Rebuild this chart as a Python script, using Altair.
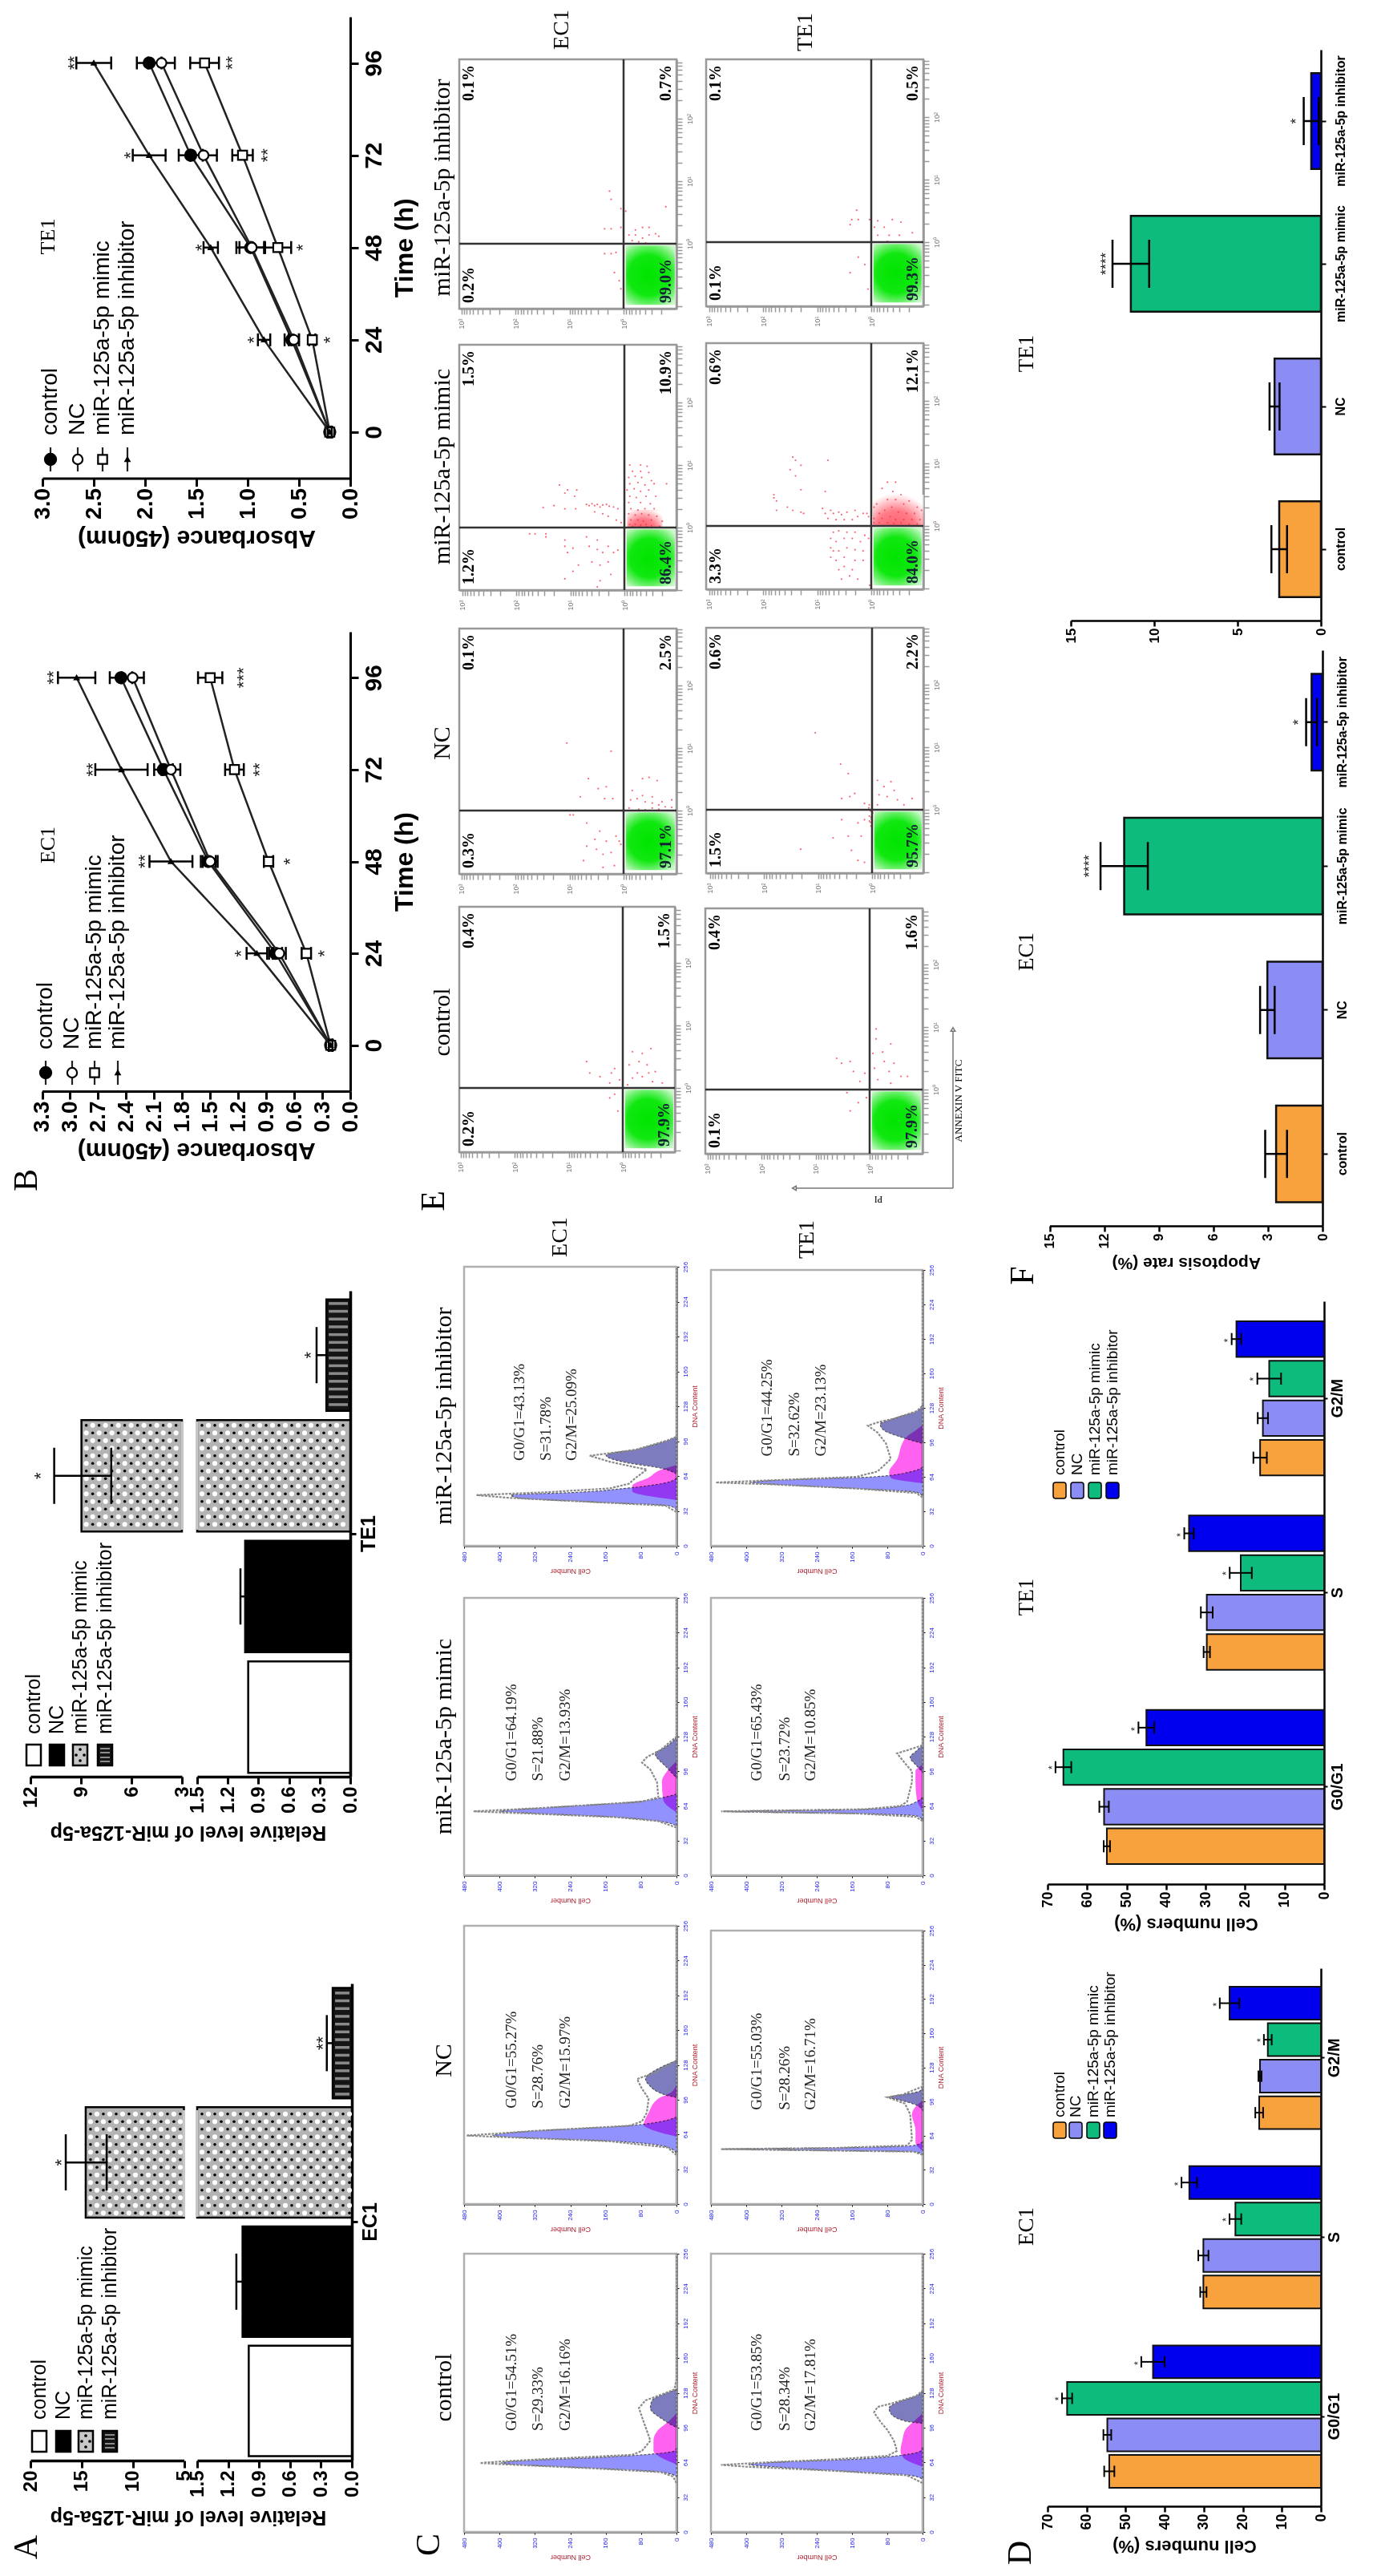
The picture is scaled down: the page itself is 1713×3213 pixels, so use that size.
import altair as alt
import numpy as np
import pandas as pd

W, H = 1697, 3197
SANS, SERIF = "Liberation Sans", "Liberation Serif"
CATS = ["control", "NC", "miR-125a-5p mimic", "miR-125a-5p inhibitor"]
COLORS = ["#F8A23E", "#8C8CF5", "#0DBB7C", "#0000EE"]
GROUPS = ["G0/G1", "S", "G2/M"]
TIME = [0, 24, 48, 72, 96]

# Panel A
A_EC1 = [1.0, 1.06, 14.6, 0.186]
A_EC1_LO = [1.0, 1.06, 12.55, 0.186]
A_EC1_HI = [1.0, 1.12, 16.55, 0.243]
A_TE1 = [1.0, 1.03, 8.97, 0.234]
A_TE1_LO = [1.0, 1.03, 7.2, 0.234]
A_TE1_HI = [1.0, 1.076, 10.59, 0.33]

# Panel B: value, error
B_EC1 = {
    "control": ([0.21, 0.80, 1.52, 2.00, 2.455], [0.02, 0.07, 0.08, 0.10, 0.12]),
    "NC": ([0.21, 0.76, 1.50, 1.92, 2.33], [0.02, 0.07, 0.08, 0.10, 0.12]),
    "mimic": ([0.21, 0.47, 0.875, 1.24, 1.50], [0.02, 0.05, 0.05, 0.10, 0.13]),
    "inhibitor": ([0.21, 1.00, 1.92, 2.45, 2.93], [0.02, 0.11, 0.23, 0.28, 0.20]),
}
B_EC1_STARS = [(24, 1.22, "*"), (24, 0.33, "*"), (48, 2.25, "**"), (48, 0.70, "*"),
               (72, 2.81, "**"), (72, 1.03, "**"), (96, 3.23, "**"), (96, 1.20, "***")]
B_TE1 = {
    "control": ([0.20, 0.57, 0.97, 1.555, 1.96], [0.02, 0.07, 0.14, 0.117, 0.12]),
    "NC": ([0.20, 0.55, 0.96, 1.43, 1.84], [0.02, 0.05, 0.12, 0.13, 0.13]),
    "mimic": ([0.20, 0.37, 0.706, 1.05, 1.42], [0.02, 0.03, 0.13, 0.10, 0.14]),
    "inhibitor": ([0.20, 0.84, 1.36, 1.96, 2.50], [0.02, 0.06, 0.07, 0.16, 0.17]),
}
B_TE1_STARS = [(24, 0.99, "*"), (24, 0.245, "*"), (48, 1.50, "*"), (48, 0.51, "*"),
               (72, 2.19, "*"), (72, 0.86, "**"), (96, 2.74, "**"), (96, 1.20, "**")]

# Panel D
D_EC1 = [[54.2, 54.7, 65.0, 43.0], [30.1, 30.1, 21.9, 33.7], [15.8, 15.6, 13.6, 23.4]]
D_EC1_E = [[1.3, 1.0, 1.3, 3.0], [0.8, 1.3, 1.5, 2.0], [1.0, 0.4, 1.0, 2.5]]
D_TE1 = [[55.0, 55.7, 66.0, 45.0], [29.7, 29.7, 21.1, 34.2], [16.2, 15.5, 13.9, 22.2]]
D_TE1_E = [[0.8, 1.2, 2.0, 2.0], [0.8, 1.5, 2.8, 1.2], [1.7, 1.3, 3.0, 1.2]]

# Panel F
F_EC1 = [2.55, 3.03, 10.9, 0.6]
F_EC1_E = [0.6, 0.4, 1.3, 0.3]
F_TE1 = [2.5, 2.78, 11.4, 0.58]
F_TE1_E = [0.47, 0.3, 1.1, 0.45]

# Panel C: (dna, count) pairs, percentages
C_PANELS = {
    ("control", "EC1"): dict(
        g1=[(51, 0), (55, 33), (58.5, 181), (62, 359), (63.4, 396), (64.7, 374), (68.4, 181), (71.6, 55), (74.5, 4), (77, 0)],
        s=[(62, 0), (68, 33), (74.5, 52), (84, 52), (94, 41), (101.6, 18), (109, 0)],
        g2=[(96, 0), (104, 33), (114, 59), (121, 55), (127, 26), (131, 0)],
        o=[(45, 0), (51, 8), (55, 35), (58.5, 190), (62, 380), (63.4, 444), (65, 390), (67, 300), (71, 100), (74.5, 78), (84, 59), (96.6, 70), (114, 85), (121, 70), (127, 30), (131, 5), (140, 0), (256, 0)],
        pct=["G0/G1=54.51%", "S=29.33%", "G2/M=16.16%"], tv=[373, 313, 252], td=93),
    ("control", "TE1"): dict(
        g1=[(48.7, 0), (52.4, 35), (56, 185), (59.8, 334), (62, 394), (63.5, 356), (67, 147), (70.8, 43), (74.5, 4), (78, 0)],
        s=[(60, 0), (68, 43), (74.5, 50), (84, 46), (94, 39), (101.6, 20), (109, 0)],
        g2=[(100, 0), (101.6, 35), (109, 72), (114, 76), (119, 58), (125, 13), (130, 0)],
        o=[(45, 0), (50, 25), (52, 35), (56, 190), (60, 400), (61.7, 457), (64, 355), (67, 190), (70, 80), (74.5, 58), (84, 65), (94, 80), (101, 95), (110, 110), (115, 102), (118, 72), (125, 15), (130, 0), (256, 0)],
        pct=["G0/G1=53.85%", "S=28.34%", "G2/M=17.81%"], tv=[376, 312, 254], td=93),
    ("NC", "EC1"): dict(
        g1=[(46.6, 0), (52, 18), (57.7, 137), (62, 390), (63, 415), (67, 330), (72, 107), (76, 33), (80, 0)],
        s=[(62, 0), (69, 60), (72.6, 74), (84, 63), (97, 41), (102, 15), (110, 0)],
        g2=[(98, 0), (100.6, 26), (110, 63), (115, 70), (123, 48), (132, 0)],
        o=[(45, 0), (52, 20), (57.7, 150), (62, 420), (63, 474), (65, 400), (67, 330), (72, 107), (76, 78), (84, 67), (97, 63), (106, 78), (115, 89), (121, 48), (132, 0), (256, 0)],
        pct=["G0/G1=55.27%", "S=28.76%", "G2/M=15.97%"], tv=[373, 313, 252], td=88),
    ("NC", "TE1"): dict(
        g1=[(46.6, 0), (49, 20), (50, 200), (51.4, 450), (52.5, 200), (54.8, 20), (58, 0)],
        s=[(50, 0), (57.7, 16), (69, 16), (84, 24), (91, 16), (97, 0)],
        g2=[(88, 0), (93, 16), (98, 58), (100, 76), (102.5, 43), (106, 5), (110, 0)],
        o=[(46, 0), (49, 20), (50, 200), (51.4, 457), (52.5, 200), (54.8, 35), (60, 24), (84, 28), (94, 40), (100, 80), (102.5, 45), (110, 0), (256, 0)],
        pct=["G0/G1=55.03%", "S=28.26%", "G2/M=16.71%"], tv=[376, 312, 254], td=88),
    ("mimic", "EC1"): dict(
        g1=[(45.5, 0), (50, 41), (53.7, 137), (57.4, 330), (59, 400), (62, 307), (67.8, 93), (71.5, 33), (75, 0)],
        s=[(58, 0), (69.7, 30), (86, 33), (97.6, 18), (105, 0)],
        g2=[(90, 0), (99.5, 22), (112.5, 48), (116, 33), (125, 5), (128, 0)],
        o=[(44, 0), (50, 41), (53.7, 140), (57.4, 360), (59, 459), (62, 310), (67.8, 78), (72, 41), (86, 44), (97.6, 59), (104, 78), (109, 67), (116, 35), (128, 0), (256, 0)],
        pct=["G0/G1=64.19%", "S=21.88%", "G2/M=13.93%"], tv=[373, 313, 252], td=87),
    ("mimic", "TE1"): dict(
        g1=[(51, 0), (54.8, 13), (57, 150), (59, 450), (60.5, 150), (64, 43), (68, 13), (72, 0)],
        s=[(60, 0), (70, 13), (86, 16), (96, 16), (102, 0)],
        g2=[(95, 0), (101, 13), (109, 28), (114, 16), (120, 0)],
        o=[(50, 0), (54, 15), (57, 150), (59, 457), (61, 130), (64, 50), (68, 35), (86, 24), (96, 24), (103, 39), (112.5, 58), (116, 30), (120, 0), (256, 0)],
        pct=["G0/G1=65.43%", "S=23.72%", "G2/M=10.85%"], tv=[376, 312, 254], td=87),
    ("inhibitor", "EC1"): dict(
        g1=[(33, 0), (36.8, 18), (40, 181), (44, 359), (46.5, 374), (49, 226), (52.7, 115), (57.6, 26), (62, 0)],
        s=[(42, 0), (50, 100), (55, 100), (62.5, 63), (70, 33), (74, 0)],
        g2=[(66, 0), (71, 33), (77, 122), (83, 159), (89, 85), (97, 18), (100, 0)],
        o=[(31, 0), (36.8, 25), (40, 181), (44, 380), (46.5, 452), (49, 300), (52.7, 150), (57, 107), (62, 93), (70, 67), (72, 93), (77, 150), (82.6, 196), (88, 93), (97, 18), (100, 0), (256, 0)],
        pct=["G0/G1=43.13%", "S=31.78%", "G2/M=25.09%"], tv=[355, 295, 237], td=78),
    ("inhibitor", "TE1"): dict(
        g1=[(46, 0), (49.6, 13), (53, 146), (57, 332), (58.7, 391), (60.7, 332), (64, 109), (69.4, 20), (73, 0)],
        s=[(58, 0), (63, 72), (68, 76), (80.5, 57), (95, 46), (100, 39), (108, 13), (112, 0)],
        g2=[(95, 0), (100, 42), (108, 90), (113, 96), (118, 65), (125, 13), (130, 0)],
        o=[(45, 0), (49, 15), (53, 146), (57, 340), (58.7, 469), (61, 330), (64, 150), (69, 102), (80.5, 72), (95, 83), (105, 102), (111.5, 124), (115, 98), (118, 65), (125, 13), (130, 0), (256, 0)],
        pct=["G0/G1=44.25%", "S=32.62%", "G2/M=23.13%"], tv=[352, 291, 231], td=83),
}

# Panel E: red events as (PI decade, Annexin decade), quadrant percentages UL, UR, LL, LR
E_PANELS = {
    ("control", "EC1"): dict(
        r=[(-.18,.58),(-.36,.55),(-.52,.63),(-.12,.37),(-.3,.42),(-.45,.37),(-.6,.26),(-.18,.16),(-.36,.18),(-.55,.1),(-.73,.08),(-.09,.05),(.67,.42),(.61,.24),(.42,.18),(.21,.24),(.15,.31),(.06,.13),(.24,.08),(.15,-.1),(.24,-.16),(.09,-.37),(-.27,.24),(-.48,.24)],
        pct=["0.4%", "1.5%", "0.2%", "97.9%"]),
    ("control", "TE1"): dict(
        r=[(-.12,.97),(-.12,.81),(-.39,.73),(-.06,.58),(-.24,.6),(-.27,.45),(-.45,.42),(-.09,.34),(-.36,.29),(-.58,.21),(-.7,.21),(-.15,.16),(-.39,.1),(.61,.5),(.52,.42),(.36,.45),(.3,.29),(.18,.13),(.09,.26),(.21,-.21),(.36,-.34),(.42,-.05),(.06,-.13)],
        pct=["0.4%", "1.6%", "0.1%", "97.9%"]),
    ("NC", "EC1"): dict(
        r=[(-.35,.51),(-.47,.53),(-.62,.48),(-.16,.32),(-.35,.24),(-.53,.22),(-.71,.14),(-.89,.17),(-.13,.17),(-.25,.19),(-.4,.14),(-.53,.12),(-.65,.09),(-.77,.06),(-.89,.05),(-.1,.04),(-.28,.02),(-.4,.01),(-.53,.04),(-.65,.02),(1.05,1.08),(.23,.95),(.65,.51),(.47,.35),(.32,.38),(.8,.22),(.35,.19),(.2,.19),(.99,-.07),(.93,-.07),(.68,-.2),(.44,-.33),(.14,-.41),(.08,-.49),(.05,-.54),(.53,-.46),(.32,-.49),(.68,-.57),(.5,-.62),(.38,-.7),(.74,-.8),(.38,-.91),(.17,-.88),(.23,-.67)],
        pct=["0.1%", "2.5%", "0.3%", "97.1%"]),
    ("NC", "TE1"): dict(
        r=[(1.05,1.23),(.58,.73),(.44,.58),(.32,.26),(.56,.18),(.41,.21),(.14,.1),(.05,.08),(-.1,.47),(-.35,.45),(-.22,.37),(-.41,.31),(-.13,.24),(-.28,.21),(-.47,.16),(-.59,.08),(-.74,.18),(-.1,.08),(-.01,-.05),(.05,-.1),(.05,-.18),(.02,-.26),(.14,-.16),(.26,-.21),(.44,-.42),(.72,-.45),(.56,-.16),(.2,-.42),(.38,-.65),(.26,-.81),(.14,-.84),(1.32,-.63),(.03,-.02),(.02,-.12),(.03,-.2),(.06,.03),(.01,-.15)],
        pct=["0.6%", "2.2%", "1.5%", "95.7%"]),
    ("mimic", "EC1"): dict(
        r=[(-.1,1.0),(-.3,1.0),(-.42,.98),(-.15,.9),(-.3,.9),(-.45,.88),(-.08,.8),(-.2,.82),(-.32,.8),(-.5,.75),(-.1,.7),(-.25,.72),(-.38,.68),(-.55,.7),(-.05,.6),(-.18,.62),(-.3,.58),(-.45,.6),(-.1,.5),(-.22,.48),(-.4,.5),(-.58,.5),(-.08,.4),(-.3,.4),(-.48,.38),(-.12,.3),(-.25,.28),(-.38,.3),(-.55,.3),(-.08,.22),(-.2,.2),(-.32,.22),(-.45,.2),(-.6,.18),(-.12,.12),(-.25,.12),(-.35,.1),(-.5,.12),(-.7,.1),(-.1,.05),(-.2,.05),(-.3,.04),(-.4,.05),(-.5,.03),(-.65,.02),(-.15,.02),(-.28,.01),(-.42,.01),(-.78,.7),(.7,.37),(.65,.35),(.6,.38),(.55,.35),(.5,.37),(.45,.33),(.4,.36),(.33,.37),(.28,.34),(.2,.33),(.12,.3),(.55,.25),(.4,.22),(.3,.18),(.15,.12),(.06,.08),(1.2,.68),(1.1,.55),(1.05,.6),(.88,.6),(.92,.5),(1.3,.35),(1.5,.32),(1.1,.3),(.9,.3),(1.75,-.1),(1.65,-.1),(1.45,-.1),(1.45,-.15),(1.1,-.2),(1.1,-.3),(1.05,-.4),(.95,-.33),(.7,-.15),(.65,-.3),(.5,-.2),(.5,-.35),(.4,-.4),(.3,-.3),(.2,-.4),(.12,-.36),(.85,-.6),(.95,-.7),(1.1,-.82),(.6,-.55),(.45,-.6),(.3,-.55),(.25,-.75),(.45,-.85),(.5,-.95)],
        pct=["1.5%", "10.9%", "1.2%", "86.4%"], blob=(-.05, -.7, 0, .28)),
    ("mimic", "TE1"): dict(
        r=[(-.3,.7),(-.45,.7),(-.2,.6),(-.4,.55),(-.55,.5),(-.7,.4),(-.85,.3),(-.05,.3),(-.1,.35),(-.3,.42),(-.45,.42),(-.6,.35),(-.8,.2),(-.93,.25),(-.05,.12),(-.15,.2),(-.25,.25),(-.38,.3),(-.5,.22),(-.65,.2),(-.75,.1),(-.9,.1),(-.2,.12),(-.35,.15),(-.45,.1),(-.6,.1),(-.05,.05),(-.15,.05),(-.3,.05),(-.42,.04),(-.55,.05),(-.7,.03),(-.85,.03),(1.45,1.1),(1.4,1.05),(.8,1.05),(1.5,.9),(1.3,.97),(1.4,.8),(1.3,.58),(.85,.55),(1.8,.5),(1.8,.45),(1.75,.4),(1.75,.25),(1.55,.3),(1.45,.25),(1.3,.22),(1.25,.2),(.9,.28),(.85,.2),(.75,.25),(.7,.2),(.6,.22),(.55,.18),(.45,.22),(.3,.25),(.25,.15),(.15,.2),(.08,.2),(.05,.15),(.8,.12),(.65,.1),(.5,.1),(.35,.1),(.7,-.1),(.6,-.08),(.45,-.1),(.3,-.1),(.12,-.15),(.75,-.2),(.65,-.25),(.5,-.2),(.35,-.2),(.2,-.25),(.05,-.2),(.75,-.35),(.7,-.4),(.6,-.4),(.45,-.35),(.3,-.38),(.15,-.4),(.75,-.5),(.65,-.55),(.5,-.5),(.3,-.55),(.15,-.55),(.6,-.7),(.5,-.65),(.35,-.7),(.55,-.85),(.4,-.8),(.25,-.85),(.03,-.95)],
        pct=["0.6%", "12.1%", "3.3%", "84.0%"], blob=(-.03, -.97, 0, .5)),
    ("inhibitor", "EC1"): dict(
        r=[(.26,.84),(.23,.71),(.05,.56),(-.04,.52),(-.78,.59),(.35,.24),(.23,.24),(.05,.26),(-.22,.22),(-.35,.26),(-.47,.26),(-.59,.16),(-.1,.14),(-.22,.14),(-.35,.09),(-.47,.14),(-.65,.12),(-.16,.05),(-.28,.03),(-.41,.01),(-.59,0),(-.71,0),(.35,-.16),(.23,-.16),(.14,-.14),(.17,-.46),(.08,-.59),(.05,-.72)],
        pct=["0.1%", "0.7%", "0.2%", "99.0%"]),
    ("inhibitor", "TE1"): dict(
        r=[(.27,.51),(.36,.36),(.24,.36),(.39,.28),(.03,.36),(-.12,.34),(-.39,.36),(-.06,.24),(-.24,.24),(-.55,.32),(-.12,.11),(-.33,.11),(-.52,.11),(-.76,.15),(-.3,.01),(-.42,0),(-.55,0),(-.67,0),(.24,-.24),(.12,-.36),(.39,-.49),(.06,-.75)],
        pct=["0.1%", "0.5%", "0.1%", "99.3%"]),
}

layers = []
ONE = alt.Data(values=[{"a": 1}])


def ax(orient, pos, **kw):
    base = dict(grid=False, labelOverlap=False, labelFlush=False, labelBound=False, labelAngle=270,
                labelFont=SANS, labelFontWeight="bold", labelColor="black", tickColor="black",
                domainColor="black", titleFont=SANS, titleFontWeight="bold", titleColor="black", title=None)
    if orient == "bottom":
        base.update(orient="bottom", offset=pos - 8 - H, labelAlign="right", labelBaseline="middle",
                    titleAngle=180, titleBaseline="bottom")
    else:
        base.update(orient="right", offset=pos - 8 - W, labelAlign="center", labelBaseline="top",
                    titleAngle=270, titleBaseline="top")
    base.update(kw)
    return alt.Axis(**base)


def lin(a, b, r0, r1):
    return alt.Scale(domain=[a, b], range=[r0, r1], nice=False, zero=False)


def pxs(a, b, r0, r1):
    """linear scale with the range given in page pixels"""
    return lin(a, b, r0 - 8, r1 - 8)


def band(domain, r0, r1, pi=0.1, po=0.0):
    return alt.Scale(domain=list(domain), range=[r0 - 8, r1 - 8], paddingInner=pi, paddingOuter=po)


def txt(s, x, y, size, font=SANS, bold=False, angle=270, align="center", baseline="middle", color="black"):
    layers.append(alt.Chart(ONE).mark_text(font=font, fontSize=size, fontWeight="bold" if bold else "normal",
                                           angle=angle, align=align, baseline=baseline, color=color)
                  .encode(x=alt.value(x - 8), y=alt.value(y - 8), text=alt.value(s)))


def vrule(x, y0, y1, color="black", w=2):
    layers.append(alt.Chart(ONE).mark_rule(color=color, strokeWidth=w)
                  .encode(x=alt.value(x - 8), y=alt.value(y0 - 8), y2=alt.value(y1 - 8)))


def hrule(y, x0, x1, color="black", w=2):
    layers.append(alt.Chart(ONE).mark_rule(color=color, strokeWidth=w)
                  .encode(y=alt.value(y - 8), x=alt.value(x0 - 8), x2=alt.value(x1 - 8)))


def rect(x0, x1, y0, y1, fill, stroke="black", w=2):
    layers.append(alt.Chart(ONE).mark_rect(fill=fill, stroke=stroke, strokeWidth=w)
                  .encode(x=alt.value(x0 - 8), x2=alt.value(x1 - 8), y=alt.value(y0 - 8), y2=alt.value(y1 - 8)))


def pt(x, y, shape, size, fill, stroke="black", w=2):
    layers.append(alt.Chart(ONE).mark_point(shape=shape, size=size, fill=fill, stroke=stroke, strokeWidth=w, opacity=1, filled=False)
                  .encode(x=alt.value(x - 8), y=alt.value(y - 8)))


def errbars(df, lo, hi, sx, y_enc_field, sy, cap, w=2.5, lowcap=True):
    d = df
    X = lambda f: alt.X(f"{f}:Q", scale=sx, axis=None)
    Y = alt.Y(y_enc_field, scale=sy, axis=None, sort=None)
    layers.append(alt.Chart(d).mark_rule(color="black", strokeWidth=w).encode(x=X(lo), x2=alt.X2(f"{hi}:Q"), y=Y))
    layers.append(alt.Chart(d).mark_tick(orient="vertical", size=cap, thickness=w, color="black", opacity=1).encode(x=X(hi), y=Y))
    if lowcap:
        layers.append(alt.Chart(d).mark_tick(orient="vertical", size=cap, thickness=w, color="black", opacity=1).encode(x=X(lo), y=Y))


def stars(rows, sx, sy, field_y="y", size=22):
    df = pd.DataFrame(rows, columns=["y", "x", "s"])
    layers.append(alt.Chart(df).mark_text(font=SANS, fontSize=size, angle=270, align="center", baseline="middle",
                                          dy=0.3 * size, color="#222")
                  .encode(x=alt.X("x:Q", scale=sx, axis=None), y=alt.Y(f"{field_y}", scale=sy, axis=None, sort=None), text="s:N"))


# ---------------- Panel A ----------------
def lattice(x0, x1, y0, y1):
    sx, sy = pxs(0, 1, x0, x1), pxs(0, 1, y0, y1)
    nx, ny = (x1 - x0) / 16, (y1 - y0) / 9.5
    blk, wht = [], []
    for j in range(int(ny) + 1):
        for i in range(int(nx) + 1):
            fx = (i + 0.5 * (j % 2) + 0.25) / nx
            fxw = (i + 0.5 * ((j + 1) % 2) + 0.25) / nx
            fy = (j + 0.5) / ny
            if fx < 1 and fy < 1:
                blk.append({"x": fx, "y": fy})
            if fxw < 1 and fy < 1:
                wht.append({"x": fxw, "y": fy})
    for pts, c, s in ((wht, "white", 38), (blk, "black", 13)):
        layers.append(alt.Chart(pd.DataFrame(pts)).mark_circle(color=c, size=s, opacity=1)
                      .encode(x=alt.X("x:Q", scale=sx, axis=None), y=alt.Y("y:Q", scale=sy, axis=None)))


def stripes(x0, x1, y0, y1):
    sy = pxs(0, 1, y0, y1)
    vals = np.arange(0.5, (y1 - y0) / 9.7) / ((y1 - y0) / 9.7)
    layers.append(alt.Chart(pd.DataFrame({"y": vals})).mark_rule(color="#8a8a8a", strokeWidth=3.5)
                  .encode(y=alt.Y("y:Q", scale=sy, axis=None), x=alt.value(x0 - 8), x2=alt.value(x1 - 8)))


AFILL = alt.Scale(domain=CATS, range=["white", "black", "#b4b4b4", "#151515"])


def panel_a(vals, lo, hi, base, ux0, ux1, udom, utick, yr, axr, mid_name, mimic_y, inh_y, title_y, legx, legy, txt_y, mim_star, inh_star, inh_stars, legh):
    sl = pxs(0, 1.5, base, 246)
    su = pxs(udom[0], udom[1], ux0, ux1)
    sy = band(CATS, yr[0], yr[1], 0.075, 0.0375)
    low = pd.DataFrame({"c": CATS, "v": [min(v, 1.5) for v in vals]})
    axl = ax("bottom", axr[0], values=[0, .3, .6, .9, 1.2, 1.5], format=".1f", labelFontSize=24, domainWidth=3.5, tickWidth=3, tickSize=9, labelPadding=3)
    layers.append(alt.Chart(low).mark_bar(stroke="black", strokeWidth=2.5).encode(
        x=alt.X("v:Q", scale=sl, axis=axl, stack=None), y=alt.Y("c:N", scale=sy, axis=None, sort=None),
        fill=alt.Fill("c:N", scale=AFILL, legend=None)))
    up = pd.DataFrame({"c": [CATS[2]], "v": [vals[2]], "b": [udom[0]]})
    axu = ax("bottom", axr[0], values=utick, format="d", labelFontSize=24, domainWidth=3.5, tickWidth=3, tickSize=9, labelPadding=3)
    layers.append(alt.Chart(up).mark_bar(stroke="black", strokeWidth=2.5, fill="#b4b4b4").encode(
        x=alt.X("v:Q", scale=su, axis=axu, stack=None), x2=alt.X2("b:Q"), y=alt.Y("c:N", scale=sy, axis=None, sort=None)))
    # textures
    ux_end = ux0 + (vals[2] - udom[0]) / (udom[1] - udom[0]) * (ux1 - ux0)
    lattice(248, base - 2, mimic_y[0] + 2, mimic_y[1] - 2)
    lattice(ux_end + 2, ux0 - 1, mimic_y[0] + 2, mimic_y[1] - 2)
    # the broken ends of the bar carry no border
    vrule(246, mimic_y[0] + 2, mimic_y[1] - 2, "#c8c8c8", 3)
    vrule(ux0, mimic_y[0] + 2, mimic_y[1] - 2, "#c8c8c8", 3)
    inh_x = base + (0 - vals[3]) / 1.5 * (base - 246)
    stripes(inh_x + 3, base - 3, inh_y[0], inh_y[1])
    # errors
    nc = pd.DataFrame({"c": [CATS[1]], "lo": [lo[1]], "hi": [hi[1]]})
    errbars(nc, "lo", "hi", sl, "c:N", sy, 70, lowcap=False)
    inh = pd.DataFrame({"c": [CATS[3]], "lo": [lo[3]], "hi": [hi[3]]})
    errbars(inh, "lo", "hi", sl, "c:N", sy, 70, lowcap=False)
    mm = pd.DataFrame({"c": [CATS[2]], "lo": [lo[2]], "hi": [hi[2]]})
    errbars(mm, "lo", "hi", su, "c:N", sy, 70)
    stars([(CATS[2], mim_star, "*")], su, sy, "y:N")
    stars([(CATS[3], inh_star, inh_stars)], sl, sy, "y:N")
    # category axis
    axg = ax("right", base, values=[mid_name], labelFontSize=25, domainWidth=3.5, tickWidth=3, tickSize=7, labelPadding=3)
    layers.append(alt.Chart(pd.DataFrame({"g": [mid_name]})).mark_tick(opacity=0).encode(
        y=alt.Y("g:N", scale=band([mid_name], axr[0], axr[1], 0, 0), axis=axg)))
    # axis title
    txt("Relative level of miR-125a-5p", 235, title_y, 25, bold=True, angle=180)
    # legend
    fills = ["white", "black", "#c8c8c8", "#151515"]
    for i, c in enumerate(CATS):
        rect(legx[i] - 9, legx[i] + 9, legy - legh, legy + legh, fills[i], w=2.5)
        txt(c, legx[i], txt_y, 25, align="left")
    pt(legx[2], legy - 7, "circle", 14, "black", w=0)
    pt(legx[2], legy + 7, "circle", 14, "black", w=0)
    pt(legx[2] - 5, legy, "circle", 14, "black", w=0)
    pt(legx[2] + 5, legy, "circle", 14, "black", w=0)
    for dy in (-8, -3, 3, 8):
        hrule(legy + dy, legx[3] - 6, legx[3] + 6, "#8a8a8a", 2)


panel_a(A_EC1, A_EC1_LO, A_EC1_HI, 439, 229.5, 38, (5, 20), [5, 10, 15, 20], (3069, 2474), (3069, 2474), "EC1",
        (2630, 2767), (2481, 2618), 3140, [49, 79, 107, 137], 3045, 3018, 17.5, 0.33, "**", 13)
panel_a(A_TE1, A_TE1_LO, A_TE1_HI, 437, 227, 38, (3, 12), [3, 6, 9, 12], (2217, 1615), (2216, 1610), "TE1",
        (1771, 1910), (1621, 1760), 2286, [42, 71, 100, 131], 2189, 2163, 11.7, 0.44, "*", 13)
txt("A", 33, 3177, 42, SERIF)
txt("B", 33, 1472, 42, SERIF)
txt("C", 535, 3174, 42, SERIF)
txt("D", 1273, 3184, 42, SERIF)
txt("E", 541, 1498, 42, SERIF)
txt("F", 1276, 1591, 42, SERIF)


# ---------------- Panel B ----------------
def panel_b(data, star_rows, x3, vmax, y_rng, ticks, name, name_y, legx, leg_y, text_y, tk_fmt=".1f"):
    sx = pxs(0, vmax, 437, x3)
    sy = pxs(-12, 108, y_rng[0], y_rng[1])
    axx = ax("bottom", y_rng[0], values=ticks, format=tk_fmt, labelFontSize=28, domainWidth=3, tickWidth=3, tickSize=10,
             labelPadding=2, title="Absorbance (450nm)", titleFontSize=30, titlePadding=8)
    axy = ax("right", 437, values=TIME, format="d", labelFontSize=30, domainWidth=3, tickWidth=3, tickSize=10,
             labelPadding=4, title="Time (h)", titleFontSize=32, titlePadding=8)
    marks = {"control": ("circle", 200, "black"), "NC": ("circle", 150, "white"),
             "mimic": ("square", 130, "white"), "inhibitor": ("triangle-up", 25, "black")}
    first = True
    for k, (vals, errs) in data.items():
        df = pd.DataFrame({"t": TIME, "v": vals, "lo": np.array(vals) - np.array(errs), "hi": np.array(vals) + np.array(errs)})
        layers.append(alt.Chart(df).mark_line(color="#222", strokeWidth=2.5).encode(
            x=alt.X("v:Q", scale=sx, axis=axx if first else None),
            y=alt.Y("t:Q", scale=sy, axis=axy if first else None), order="t:Q"))
        first = False
        errbars(df, "lo", "hi", sx, "t:Q", sy, 16)
        shp, sz, fl = marks[k]
        layers.append(alt.Chart(df).mark_point(shape=shp, size=sz, fill=fl, stroke="black", strokeWidth=2.2, opacity=1, filled=False).encode(
            x=alt.X("v:Q", scale=sx, axis=None), y=alt.Y("t:Q", scale=sy, axis=None)))
    stars(star_rows, sx, sy, "y:Q")
    txt(name, 60, name_y, 26, SERIF)
    labs = ["control", "NC", "miR-125a-5p mimic", "miR-125a-5p inhibitor"]
    for i, (k, m) in enumerate(marks.items()):
        vrule(legx[i], leg_y - 15, leg_y + 15, "#222", 2.2)
        pt(legx[i], leg_y, m[0], m[1], m[2], w=2.2)
        txt(labs[i], legx[i], text_y, 28, align="left")


panel_b(B_EC1, B_EC1_STARS, 52.5, 3.3, (1361, 788), [round(.3 * i, 1) for i in range(12)], "EC1", 1054, [57, 90, 118, 147], 1338, 1309)
panel_b(B_TE1, B_TE1_STARS, 53, 3.0, (596.5, 21), [round(.5 * i, 1) for i in range(7)], "TE1", 295, [63, 97, 128, 159], 573, 543)


# ---------------- Panel C ----------------
CX = {"EC1": (579, 844), "TE1": (887, 1151)}
CY = {"control": {"EC1": (3158, 2811), "TE1": (3158, 2811)}, "NC": {"EC1": (2749, 2402), "TE1": (2749, 2408)},
      "mimic": {"EC1": (2339, 1993), "TE1": (2339, 1993)}, "inhibitor": {"EC1": (1928, 1580), "TE1": (1928, 1584)}}

for (col, row), p in C_PANELS.items():
    x0, x1 = CX[row]
    yb, yt = CY[col][row]
    sx, sy = pxs(0, 480, x1, x0), pxs(0, 256, yb, yt)
    tokw = dict(labelFont=SANS, labelFontWeight="normal", labelColor="#2222ee", labelFontSize=8, titleFont=SANS,
                titleFontWeight="normal", titleColor="#b02030", titleFontSize=9, tickSize=3, tickWidth=1, domainColor="#444", domainWidth=2.5)
    axx = ax("bottom", yb, values=[0, 80, 160, 240, 320, 400, 480], format="d", labelPadding=4, title="Cell Number", titlePadding=6, **tokw)
    axy = ax("right", x1, values=[0, 32, 64, 96, 128, 160, 192, 224, 256], format="d", labelPadding=4, title="DNA Content", titlePadding=3, **tokw)
    box = pd.DataFrame({"a": [0], "b": [480], "c": [0], "d": [256]})
    layers.append(alt.Chart(box).mark_rect(fill="white", stroke="#b0b0b0", strokeWidth=2.5).encode(
        x=alt.X("a:Q", scale=sx, axis=axx), x2=alt.X2("b:Q"), y=alt.Y("c:Q", scale=sy, axis=axy), y2=alt.Y2("d:Q")))
    for key, fill, st, blend in (("g1", "#9292FF", "#555", None), ("g2", "#7C7CBE", "#555", None), ("s", "#FF62F0", None, "multiply")):
        d = pd.DataFrame(p[key], columns=["d", "v"])
        kw = dict(orient="horizontal", fill=fill, interpolate="monotone")
        if st:
            kw.update(stroke=st, strokeWidth=1.2, strokeDash=[3, 2])
        if blend:
            kw.update(blend=blend)
        layers.append(alt.Chart(d).mark_area(**kw).encode(
            x=alt.X("v:Q", scale=sx, axis=None, stack=None), y=alt.Y("d:Q", scale=sy, axis=None)))
    d = pd.DataFrame(p["o"], columns=["d", "v"])
    layers.append(alt.Chart(d).mark_line(orient="horizontal", color="#8a8a8a", strokeWidth=2.2, strokeDash=[3, 1.5]).encode(
        x=alt.X("v:Q", scale=sx, axis=None), y=alt.Y("d:Q", scale=sy, axis=None), order="d:Q"))
    d = pd.DataFrame({"t": p["pct"], "v": p["tv"], "d": [p["td"]] * 3})
    layers.append(alt.Chart(d).mark_text(font=SERIF, fontSize=19, angle=270, align="left", baseline="middle", color="#222").encode(
        x=alt.X("v:Q", scale=sx, axis=None), y=alt.Y("d:Q", scale=sy, axis=None), text="t:N"))

for s, y, x in (("control", 2978, 554), ("NC", 2570, 554), ("miR-125a-5p mimic", 2166, 554), ("miR-125a-5p inhibitor", 1766, 554)):
    txt(s, x, y, 30, SERIF)
txt("EC1", 699, 1543, 28, SERIF)
txt("TE1", 1007, 1546, 28, SERIF)

# ---------------- Panel E ----------------
EBOX = {
    ("inhibitor", "EC1"): (573, 844, 74, 385, 778, 304), ("inhibitor", "TE1"): (881, 1152, 74, 382, 1087, 302),
    ("mimic", "EC1"): (573, 844, 430, 736, 779, 658), ("mimic", "TE1"): (881, 1152, 428, 735, 1087, 656),
    ("NC", "EC1"): (573, 844, 784, 1090, 778, 1011), ("NC", "TE1"): (881, 1152, 783, 1089, 1088, 1010),
    ("control", "EC1"): (573, 842, 1131, 1437, 777, 1357), ("control", "TE1"): (880, 1151, 1133, 1439, 1085, 1359),
}
DX, DY = 67.5, 78.0
MINOR = [round(d + np.log10(k), 3) for d in (-1, 0, 1, 2, 3) for k in range(1, 10) if d + np.log10(k) < 3.2]
GREEN = dict(gradient="radial", x1=.47, y1=.5, r1=0, x2=.47, y2=.5, r2=.62,
             stops=[dict(offset=0, color="#00e400"), dict(offset=.55, color="#10e810"),
                    dict(offset=.8, color="#70f070"), dict(offset=1, color="#c8f8c8")])
RED = dict(gradient="radial", x1=.45, y1=.92, r1=0, x2=.45, y2=.92, r2=.75,
           stops=[dict(offset=0, color="#ff2030"), dict(offset=.55, color="#ff5060"), dict(offset=1, color="#ffffff")])
LABELS = "datum.value==0?'10\u2070':datum.value==1?'10\u00b9':datum.value==2?'10\u00b2':datum.value==3?'10\u00b3':''"

for key, p in E_PANELS.items():
    l, r, t, b, vl, hl = EBOX[key]
    xa, xb = (vl - l) / DX, (vl - r) / DX
    ya, yb = (hl - b) / DY, (hl - t) / DY
    sx, sy = pxs(xa, xb, l, r), pxs(ya, yb, b, t)
    xk = dict(labelFont=SANS, labelFontWeight="normal", labelColor="#777", labelFontSize=9, tickColor="#999", tickSize=7, tickWidth=1.5,
              domainColor="#999", domainWidth=2.5, labelExpr=LABELS, values=[m for m in MINOR if xb <= m <= xa], labelPadding=5)
    yk = dict(xk); yk["values"] = [m for m in MINOR if ya <= m <= yb]
    axx, axy = ax("bottom", b, **xk), ax("right", r, **yk)
    box = pd.DataFrame({"a": [xa], "b": [xb], "c": [ya], "d": [yb]})
    layers.append(alt.Chart(box).mark_rect(fill="white", stroke="#999", strokeWidth=2.5).encode(
        x=alt.X("a:Q", scale=sx, axis=axx), x2=alt.X2("b:Q"), y=alt.Y("c:Q", scale=sy, axis=axy), y2=alt.Y2("d:Q")))
    quad = pd.DataFrame({"a": [-.04], "b": [xb + .03], "c": [ya + .06], "d": [-.03]})
    layers.append(alt.Chart(quad).mark_rect(fill=GREEN).encode(
        x=alt.X("a:Q", scale=sx, axis=None), x2=alt.X2("b:Q"), y=alt.Y("c:Q", scale=sy, axis=None), y2=alt.Y2("d:Q")))
    if "blob" in p:
        a, c, e, f = p["blob"]
        bl = pd.DataFrame({"a": [a], "b": [c], "c": [e], "d": [f]})
        layers.append(alt.Chart(bl).mark_rect(fill=RED, opacity=.75).encode(
            x=alt.X("a:Q", scale=sx, axis=None), x2=alt.X2("b:Q"), y=alt.Y("c:Q", scale=sy, axis=None), y2=alt.Y2("d:Q")))
    pts = pd.DataFrame(p["r"], columns=["x", "y"])
    layers.append(alt.Chart(pts).mark_circle(color="#f03848", size=5, opacity=.75).encode(
        x=alt.X("x:Q", scale=sx, axis=None), y=alt.Y("y:Q", scale=sy, axis=None)))
    cross = pd.DataFrame({"a": [0], "c": [0]})
    layers.append(alt.Chart(cross).mark_rule(color="#333", strokeWidth=2.5).encode(
        x=alt.X("a:Q", scale=sx, axis=None), y=alt.value(t - 8), y2=alt.value(b - 8)))
    layers.append(alt.Chart(cross).mark_rule(color="#333", strokeWidth=2.5).encode(
        y=alt.Y("c:Q", scale=sy, axis=None), x=alt.value(l - 8), x2=alt.value(r - 8)))
    ul, ur, ll, lr = p["pct"]
    txt(ul, l + 12, t + 7, 20, SERIF, True, align="right")
    txt(ur, r - 13, t + 7, 20, SERIF, True, align="right")
    txt(ll, l + 12, b - 7, 20, SERIF, True, align="left")
    txt(lr, r - 13, b - 7, 20, SERIF, True, align="left", color="#123")

for s, y in (("control", 1275), ("NC", 927), ("miR-125a-5p mimic", 582), ("miR-125a-5p inhibitor", 234)):
    txt(s, 552, y, 30, SERIF)
txt("EC1", 701, 37, 28, SERIF)
txt("TE1", 1005, 40, 28, SERIF)
vrule(1189, 1284, 1482, "#777", 1.5)
hrule(1482, 991, 1189, "#777", 1.5)
pt(1189, 1284, "triangle-up", 30, "white", "#777", 1.5)
pt(991, 1482, "triangle-left", 30, "white", "#777", 1.5)
txt("ANNEXIN V FITC", 1196, 1373, 13, SERIF)
txt("PI", 1096, 1496, 12, SERIF, angle=180)


# ---------------- Panel D ----------------
FILLS = alt.Scale(domain=CATS, range=COLORS)


def panel_d(vals, errs, base, x70, yb, yt, cap, name, name_y, legx, legy, text_y, title_y):
    sx = pxs(0, 70, base, x70)
    pitch = (yb - yt) / 3
    bar_pitch = pitch * 0.2035
    centers = [yb - pitch * (i + .5) for i in range(3)]
    axx = ax("bottom", yb, values=list(range(0, 71, 10)), format="d", labelFontSize=18, domainWidth=2.5, tickWidth=2.5, tickSize=7,
             labelPadding=2, title="Cell numbers (%)", titleFontSize=22, titlePadding=8)
    for i, c in enumerate(centers):
        sy = band(CATS, c + 1.95 * bar_pitch, c - 1.95 * bar_pitch, 0.1, 0)
        df = pd.DataFrame({"c": CATS, "v": vals[i], "lo": np.array(vals[i]) - np.array(errs[i]), "hi": np.array(vals[i]) + np.array(errs[i])})
        layers.append(alt.Chart(df).mark_bar(stroke="#111", strokeWidth=2).encode(
            x=alt.X("v:Q", scale=sx, axis=axx if i == 0 else None, stack=None), y=alt.Y("c:N", scale=sy, axis=None, sort=None),
            fill=alt.Fill("c:N", scale=FILLS, legend=None)))
        errbars(df, "lo", "hi", sx, "c:N", sy, cap, w=2)
        st = [(CATS[j], vals[i][j] + errs[i][j] + 1.6, "*") for j in (2, 3)]
        stars(st, sx, sy, "y:N", size=12)
    axg = ax("right", base, values=GROUPS, labelFontSize=20, domainWidth=2.5, tickWidth=2, tickSize=4, labelPadding=2)
    layers.append(alt.Chart(pd.DataFrame({"g": GROUPS})).mark_tick(opacity=0).encode(
        y=alt.Y("g:N", scale=band(GROUPS, yb, yt, 0, 0), axis=axg, sort=None)))
    txt(name, 1281, name_y, 27, SERIF)
    for i, c in enumerate(CATS):
        layers.append(alt.Chart(ONE).mark_rect(fill=COLORS[i], stroke="black", strokeWidth=1.5, cornerRadius=3).encode(
            x=alt.value(legx[i] - 8 - 8), x2=alt.value(legx[i] - 8 + 8), y=alt.value(legy - 8 - 10), y2=alt.value(legy - 8 + 10)))
        txt(c, legx[i], text_y, 19, align="left")


panel_d(D_EC1, D_EC1_E, 1648, 1307, 3126, 2455, 14, "EC1", 2777, [1322, 1342, 1364, 1385], 2657, 2641, 3182)
panel_d(D_TE1, D_TE1_E, 1652, 1307, 2350, 1623, 15, "TE1", 1992, [1322, 1344, 1366, 1388], 1859, 1840, 2410)


# ---------------- Panel F ----------------
def panel_f(vals, errs, base, x15, ticks, yb, yt, cap, name, name_y, star_v, title):
    sx = pxs(0, 15, base, x15)
    sy = band(CATS, yb, yt, 0.33, 0.165)
    axx = ax("bottom", yb, values=ticks, format="d", labelFontSize=17, domainWidth=2.5, tickWidth=2.5, tickSize=7, labelPadding=2,
             **(dict(title="Apoptosis rate (%)", titleFontSize=21, titlePadding=8) if title else {}))
    axy = ax("right", base, labelFontSize=16, domainWidth=2.5, tickWidth=2, tickSize=6, labelPadding=10)
    df = pd.DataFrame({"c": CATS, "v": vals, "lo": np.array(vals) - np.array(errs), "hi": np.array(vals) + np.array(errs)})
    layers.append(alt.Chart(df).mark_bar(stroke="#111", strokeWidth=2.5).encode(
        x=alt.X("v:Q", scale=sx, axis=axx, stack=None), y=alt.Y("c:N", scale=sy, axis=axy, sort=None),
        fill=alt.Fill("c:N", scale=FILLS, legend=None)))
    errbars(df, "lo", "hi", sx, "c:N", sy, cap, w=2.5)
    stars([(CATS[2], star_v[0], "****"), (CATS[3], star_v[1], "*")], sx, sy, "y:N", size=18)
    txt(name, 1281, name_y, 27, SERIF)


panel_f(F_EC1, F_EC1_E, 1650, 1309.5, [0, 3, 6, 9, 12, 15], 1529, 811, 60, "EC1", 1187, (13.0, 1.5), True)
panel_f(F_TE1, F_TE1_E, 1648, 1336, [0, 5, 10, 15], 774, 62, 60, "TE1", 441, (13.1, 1.7), False)

chart = alt.layer(*layers).properties(
    width=W, height=H, padding=0, background="white", autosize=alt.AutoSizeParams(type="none")
).resolve_scale(x="independent", y="independent", fill="independent").resolve_axis(x="independent", y="independent").configure_view(stroke=None)

chart.save("out.html", embed_options={"renderer": "svg", "actions": False})
